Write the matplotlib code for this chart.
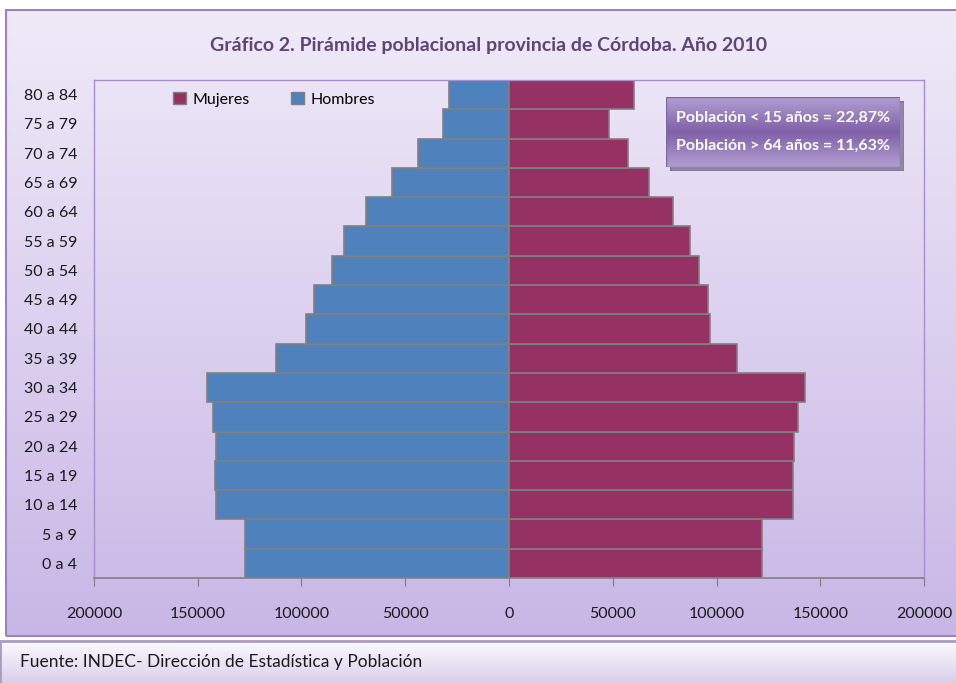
import numpy as np
import matplotlib.pyplot as plt
from matplotlib.patches import Rectangle, Patch

plt.rcParams['font.family'] = ['Lato', 'DejaVu Sans']

# age groups, bottom to top
grupos = ['0 a 4', '5 a 9', '10 a 14', '15 a 19', '20 a 24', '25 a 29', '30 a 34',
          '35 a 39', '40 a 44', '45 a 49', '50 a 54', '55 a 59', '60 a 64',
          '65 a 69', '70 a 74', '75 a 79', '80 a 84']
hombres = [127200, 127200, 141200, 141700, 141200, 142700, 145500, 112300, 97800,
           94000, 85300, 79500, 68900, 56400, 43900, 31800, 28900]
mujeres = [121900, 121900, 136900, 136900, 137300, 139300, 142700, 109900, 96900,
           95900, 91600, 87200, 79000, 67500, 57300, 48200, 60200]
xticks = [-200000, -150000, -100000, -50000, 0, 50000, 100000, 150000, 200000]
titulo = 'Gráfico 2. Pirámide poblacional provincia de Córdoba. Año 2010'
nota = ['Población < 15 años = 22,87%', 'Población > 64 años = 11,63%']
fuente = 'Fuente: INDEC- Dirección de Estadística y Población'

W, H = 956, 683
fig = plt.figure(figsize=(W / 100, H / 100), dpi=100, facecolor='white')


def fbox(x0, y0, x1, y1):
    # pixel box (top-left origin) -> figure fraction rect
    return [x0 / W, 1 - y1 / H, (x1 - x0) / W, (y1 - y0) / H]


def gradient(ax, top, bottom, n=256):
    c0 = np.array(plt.matplotlib.colors.to_rgb(top))
    c1 = np.array(plt.matplotlib.colors.to_rgb(bottom))
    t = np.linspace(0, 1, n)[:, None]
    img = (1 - t) * c0 + t * c1
    ax.imshow(img[:, None, :], aspect='auto', extent=[0, 1, 0, 1], origin='upper')
    ax.set_xlim(0, 1)
    ax.set_ylim(0, 1)
    ax.set_axis_off()


# chart background with gradient
bg = fig.add_axes(fbox(6, 10, 958, 636), zorder=0)
gradient(bg, '#f0eaf8', '#c8b7e6')
bg.add_patch(Rectangle((0, 0), 1, 1, transform=bg.transAxes, fill=False,
                       edgecolor='#9a82c0', linewidth=1.5, clip_on=False))

fig.text(489 / W, 1 - 45 / H, titulo, ha='center', va='center',
         fontsize=14, fontweight='bold', color='#5b4677')

# main plot
ax = fig.add_axes(fbox(94, 80, 924, 578), zorder=2)
ax.patch.set_alpha(0)
y = np.arange(len(grupos))
ax.barh(y, [-v for v in hombres], height=1.0, color='#4f81bd',
        edgecolor='#808080', linewidth=1.2, label='Hombres')
ax.barh(y, mujeres, height=1.0, color='#953163',
        edgecolor='#808080', linewidth=1.2, label='Mujeres')
ax.set_xlim(-200000, 200000)
ax.set_ylim(-0.5, len(grupos) - 0.5)
ax.set_yticks(y)
ax.set_yticklabels(grupos, fontsize=11.5, color='#1a1a1a')
ax.tick_params(axis='y', length=0, pad=12)
ax.set_xticks(xticks)
ax.set_xticklabels([str(abs(v)) for v in xticks], fontsize=11.5, color='#1a1a1a')
ax.tick_params(axis='x', direction='out', length=6, color='#808080', pad=15)
for s in ['left', 'top', 'right']:
    ax.spines[s].set_color('#a58fcc')
    ax.spines[s].set_linewidth(1.0)
ax.spines['bottom'].set_color('#808080')
ax.spines['bottom'].set_linewidth(1.2)

handles = [Patch(facecolor='#953163', edgecolor='#808080', label='Mujeres'),
           Patch(facecolor='#4f81bd', edgecolor='#808080', label='Hombres')]
ax.legend(handles=handles, loc='upper left', bbox_to_anchor=(0.078, 1.005), ncol=2,
          frameon=False, fontsize=11.5, handlelength=0.8, handleheight=0.8,
          columnspacing=2.6, handletextpad=0.4)

# annotation box with shadow
sh = fig.add_axes(fbox(670, 101, 904, 171), zorder=3)
sh.set_axis_off()
sh.add_patch(Rectangle((0, 0), 1, 1, transform=sh.transAxes, color='#4a3d66', alpha=0.55))
nb = fig.add_axes(fbox(666, 97, 900, 167), zorder=4)
t = np.linspace(0, 1, 128)
prof = np.abs(t - 0.5) * 2
c_mid = np.array([0.50, 0.38, 0.66])
c_edge = np.array([0.70, 0.62, 0.82])
img = (1 - prof)[:, None] * c_mid + prof[:, None] * c_edge
nb.imshow(img[:, None, :], aspect='auto', extent=[0, 1, 0, 1])
nb.set_xlim(0, 1)
nb.set_ylim(0, 1)
nb.set_axis_off()
nb.add_patch(Rectangle((0, 0), 1, 1, transform=nb.transAxes, fill=False,
                       edgecolor='#7a68a0', linewidth=1))
nb.text(0.5, 0.70, nota[0], ha='center', va='center', color='white',
        fontsize=11.5, fontweight='bold', transform=nb.transAxes)
nb.text(0.5, 0.30, nota[1], ha='center', va='center', color='white',
        fontsize=11.5, fontweight='bold', transform=nb.transAxes)

# source footer
ft = fig.add_axes(fbox(0, 641, 958, 684), zorder=1)
gradient(ft, '#fbfafd', '#d9cdeb')
ft.add_patch(Rectangle((0, 0), 1, 1, transform=ft.transAxes, fill=False,
                       edgecolor='#a89cc0', linewidth=2, clip_on=False))
ft.text(20 / 958, 0.5, fuente, ha='left', va='center', fontsize=12.5, color='#1a1a1a',
        transform=ft.transAxes)

fig.savefig('out.png', dpi=100, facecolor='white')
